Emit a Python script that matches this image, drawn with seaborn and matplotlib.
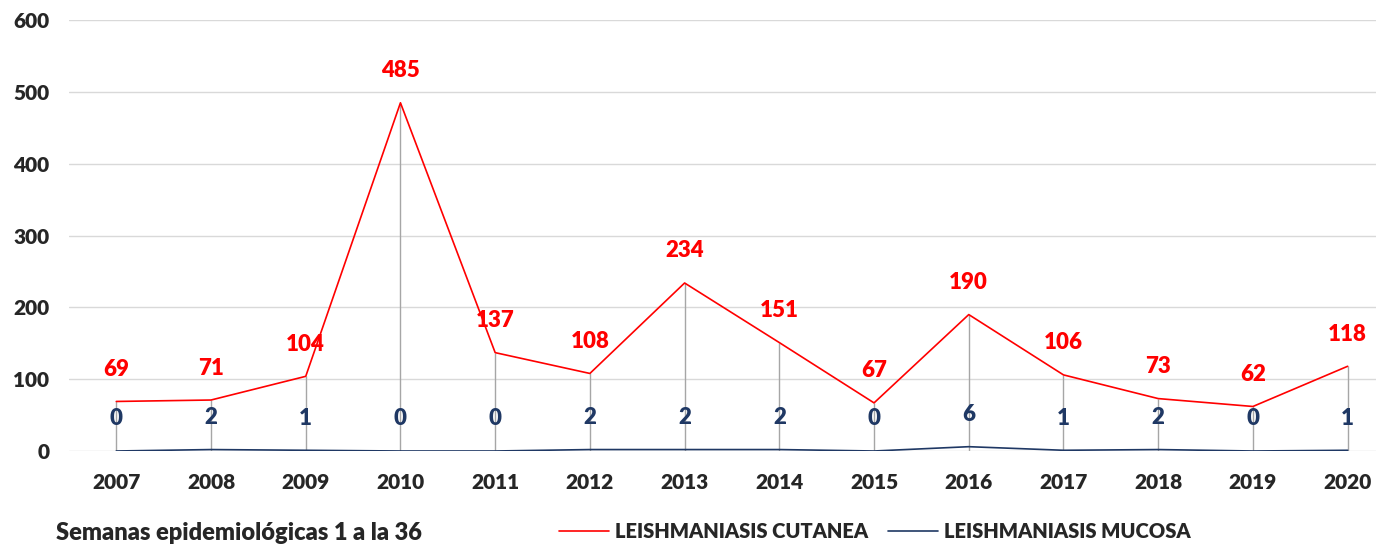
import numpy as np
import pandas as pd
import matplotlib
matplotlib.use("Agg")
import matplotlib.pyplot as plt
import seaborn as sns

years = ["2007", "2008", "2009", "2010", "2011", "2012", "2013",
         "2014", "2015", "2016", "2017", "2018", "2019", "2020"]
cutanea = [69, 71, 104, 485, 137, 108, 234, 151, 67, 190, 106, 73, 62, 118]
mucosa = [0, 2, 1, 0, 0, 2, 2, 2, 0, 6, 1, 2, 0, 1]
series_names = ["LEISHMANIASIS CUTANEA", "LEISHMANIASIS MUCOSA"]
y_ticks = [0, 100, 200, 300, 400, 500, 600]

red = "#FF0000"
navy = "#1F3864"

sns.set_style("white")
plt.rcParams["font.family"] = ["Lato", "DejaVu Sans"]

df = pd.DataFrame({
    "year": years * 2,
    "casos": cutanea + mucosa,
    "serie": [series_names[0]] * len(years) + [series_names[1]] * len(years),
})

fig = plt.figure(figsize=(13.76, 5.46), dpi=100)
ax = fig.add_axes([0.0501, 0.174, 0.9637, 0.789])

# drop lines from the top point down to zero
xs = np.arange(len(years))
ax.vlines(xs, 0, np.maximum(cutanea, mucosa), color="#A6A6A6", lw=1, zorder=1)

sns.lineplot(data=df, x="year", y="casos", hue="serie",
             palette=[red, navy], linewidth=1.2, ax=ax, legend=False,
             zorder=3)

for i, v in enumerate(cutanea):
    ax.annotate(str(v), (i, v), xytext=(0, 32), textcoords="offset pixels",
                ha="center", va="center", color=red, fontsize=16,
                fontweight="heavy")
for i, v in enumerate(mucosa):
    ax.annotate(str(v), (i, v), xytext=(0, 32), textcoords="offset pixels",
                ha="center", va="center", color=navy, fontsize=16,
                fontweight="heavy")

ax.set_xlim(-0.5, len(years) - 0.5)
ax.set_ylim(0, 600)
ax.set_yticks(y_ticks)
ax.grid(axis="y", color="#D9D9D9", lw=1)
ax.set_axisbelow(True)
for s in ax.spines.values():
    s.set_visible(False)
ax.tick_params(axis="both", length=0, labelsize=15)
ax.tick_params(axis="x", pad=16)
ax.tick_params(axis="y", pad=14)
for lab in ax.get_xticklabels() + ax.get_yticklabels():
    lab.set_fontweight("heavy")
ax.set_xlabel("")
ax.set_ylabel("")

handles = [plt.Line2D([], [], color=red, lw=1.2),
           plt.Line2D([], [], color=navy, lw=1.2)]
leg = fig.legend(handles, series_names, loc="center", ncol=2,
                 bbox_to_anchor=(0.636, 0.026), frameon=False,
                 handlelength=2.45, columnspacing=1.0, handletextpad=0.33,
                 prop={"weight": "heavy", "size": 14.5})

fig.text(0.041, 0.011, "Semanas epidemiológicas 1 a la 36", fontsize=17,
         fontweight="heavy", ha="left", va="baseline")

fig.savefig("out.png", dpi=100)
